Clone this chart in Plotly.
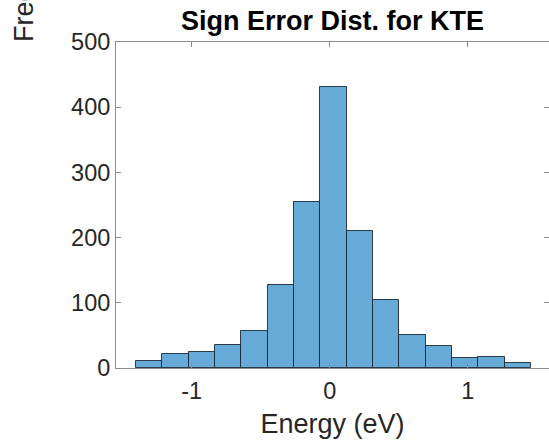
import plotly.graph_objects as go

# Data
bin_start = -1.403
bin_width = 0.1907
counts = [10, 21, 25, 35, 57, 128, 255, 431, 210, 104, 50, 33, 16, 17, 7]
x_tickvals = [-1, 0, 1]
x_ticktext = ["-1", "0", "1"]
y_tickvals = [0, 100, 200, 300, 400, 500]
y_ticktext = ["0", "100", "200", "300", "400", "500"]
title_text = "Sign Error Dist. for KTE"
x_label = "Energy (eV)"
y_label = "Frequency"

centers = [bin_start + bin_width * (i + 0.5) for i in range(len(counts))]

FONT = "Liberation Sans, Arial, Helvetica, sans-serif"
AXCOL = "#8c8c8c"
TXT = "#262626"

fig = go.Figure(
    go.Bar(
        x=centers,
        y=counts,
        width=[bin_width] * len(counts),
        marker=dict(color="#66aad7", line=dict(color="rgba(20,30,45,0.85)", width=1)),
        hoverinfo="x+y",
    )
)

fig.update_layout(
    width=549,
    height=443,
    margin=dict(l=116, r=0, t=42, b=75),
    paper_bgcolor="white",
    plot_bgcolor="white",
    showlegend=False,
    bargap=0,
    title=dict(
        text=title_text,
        x=0.5,
        xref="paper",
        xanchor="center",
        y=1 - 21 / 443,
        yref="container",
        yanchor="middle",
        font=dict(family=FONT, size=27, color="black", weight="bold"),
    ),
    font=dict(family=FONT, color=TXT),
)

fig.update_xaxes(
    range=[-1.549, 1.589],
    tickvals=x_tickvals,
    ticktext=x_ticktext,
    ticks="inside",
    ticklen=5,
    tickcolor=AXCOL,
    showline=True,
    linecolor=AXCOL,
    linewidth=1,
    mirror="ticks",
    showgrid=False,
    zeroline=False,
    tickfont=dict(family=FONT, size=23.5, color=TXT),
    ticklabelstandoff=2,
    title=dict(text=x_label, font=dict(family=FONT, size=27, color=TXT), standoff=10),
)

fig.update_yaxes(
    range=[0, 500],
    tickvals=y_tickvals,
    ticktext=y_ticktext,
    ticks="inside",
    ticklen=5,
    tickcolor=AXCOL,
    showline=True,
    linecolor=AXCOL,
    linewidth=1,
    mirror="ticks",
    showgrid=False,
    zeroline=False,
    tickfont=dict(family=FONT, size=23.5, color=TXT),
)

fig.add_annotation(
    text=y_label,
    textangle=-90,
    xref="paper",
    yref="paper",
    x=(24 - 116) / 433,
    y=(368 - (42 - 64)) / 326,
    xanchor="center",
    yanchor="middle",
    showarrow=False,
    font=dict(family=FONT, size=27, color=TXT),
)

fig.write_html("out.html")
